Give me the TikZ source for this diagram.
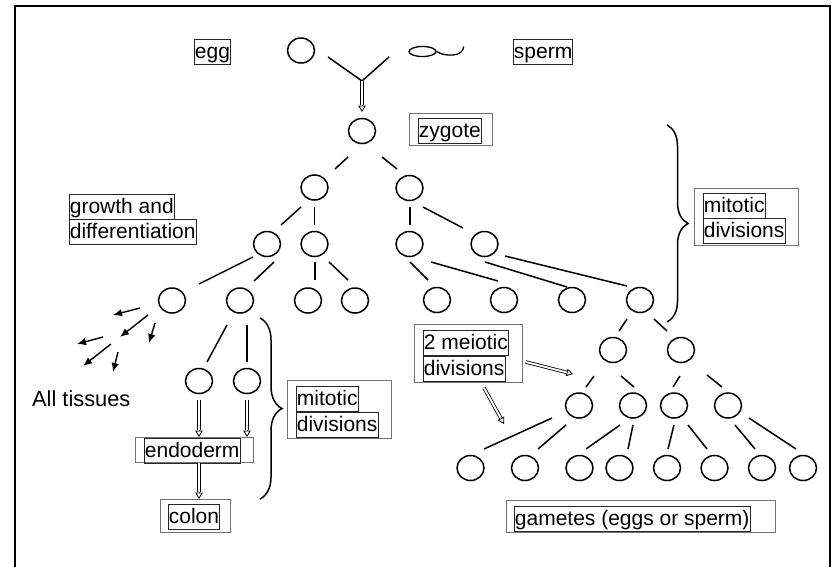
\documentclass[tikz,border=0pt]{standalone}
\usepackage{fontspec}
\setmainfont{Liberation Sans}
\usetikzlibrary{shapes.geometric,arrows.meta,calc,decorations.pathreplacing}
\newcommand\lnk[6]{\draw[edge] ($(#1)+(#2,#3)$) -- ($(#4)+(#5,#6)$);}
\newcommand\dblarr[2]{%
  \draw[line width=0.8pt,-{Triangle[open,length=6.5pt,width=7.5pt]}] #1 -- #2;
  \draw[line width=0.8pt,double distance=1.9pt,shorten >=6.6pt] #1 -- #2;}
\begin{document}
\begin{tikzpicture}[x=1pt,y=-1pt,
  cell/.style={ellipse,draw,line width=1.5pt,minimum width=27pt,minimum height=25pt,inner sep=0pt},
  edge/.style={line width=1.5pt},
  fat/.style={line width=1.4pt,-{Latex[length=9pt,width=7.5pt]}},
  ibox/.style={draw=black!85,line width=0.8pt,inner xsep=0.5pt,inner ysep=0pt,
    text height=19.5pt,text depth=5.5pt,anchor=north west,font=\fontsize{21pt}{25pt}\selectfont},
  obox/.style={draw=black!55,line width=0.8pt,inner sep=0pt,anchor=north west},
  brc/.style={line width=1.5pt,decorate},
  frame/.style={line width=1.3pt}]
\useasboundingbox (0,0) rectangle (832,566);
\draw[frame] (15,580) -- (15,6) -- (830,6) -- (830,580);

% top: egg + sperm
\node[cell] (egg) at (301,50.5) {};
\node[ellipse,draw,line width=1.3pt,minimum width=27pt,minimum height=10pt,inner sep=0pt] (sperm) at (422.5,51.5) {};
\draw[line width=1.3pt] (sperm.east) .. controls +(7,4) and +(-5,0) .. ++(16,3.5)
   .. controls +(7,0) and +(0,4) .. ++(11,-8.5);
\coordinate (Y) at (362,81);
\draw[edge] ($(egg)+(27,6.5)$) -- (Y);
\draw[edge] ($(sperm)+(-33.5,5.5)$) -- (Y);

% circles
\node[cell] (zyg) at (362,131) {};
\node[cell] (a2) at (314.5,187.5) {};
\node[cell] (b2) at (409.5,188) {};
\node[cell] (a3) at (267,244) {};
\node[cell] (b3) at (314.5,244) {};
\node[cell] (c3) at (409.5,244) {};
\node[cell] (d3) at (484.5,244) {};
\node[cell] (a4) at (172,300.5) {};
\node[cell] (b4) at (240,300.5) {};
\node[cell] (c4) at (308,300.5) {};
\node[cell] (d4) at (355,300.5) {};
\node[cell] (e4) at (437,300) {};
\node[cell] (f4) at (504,300) {};
\node[cell] (g4) at (572,300) {};
\node[cell] (h4) at (640,300) {};
\node[cell] (la5) at (199,381) {};
\node[cell] (lb5) at (247,381) {};
\node[cell] (ra5) at (613,350) {};
\node[cell] (rb5) at (681,350) {};
\node[cell] (a6) at (579,405.5) {};
\node[cell] (b6) at (633,405.5) {};
\node[cell] (c6) at (674,405.5) {};
\node[cell] (d6) at (728,405.5) {};
\node[cell] (a7) at (470.5,468) {};
\node[cell] (b7) at (525,468) {};
\node[cell] (c7) at (579.5,468) {};
\node[cell] (d7) at (619.5,468) {};
\node[cell] (e7) at (667,468) {};
\node[cell] (f7) at (714.5,468) {};
\node[cell] (g7) at (762,468) {};
\node[cell] (h7) at (803,468) {};

% tree edges
\lnk{zyg}{-14}{26}{a2}{20.5}{-18.5}
\lnk{zyg}{20}{26}{b2}{-12.5}{-19}
\lnk{a2}{-13.5}{19.5}{a3}{14}{-19}
\lnk{a2}{0}{19.5}{b3}{0}{-19}
\lnk{b2}{0.5}{19}{c3}{0.5}{-19}
\lnk{b2}{13.5}{19}{d3}{-21.5}{-16}
\lnk{a3}{-14}{13}{a4}{27}{-16.5}
\lnk{a3}{7}{18}{b4}{14}{-19.5}
\lnk{b3}{0.5}{18}{c4}{7}{-20.5}
\lnk{b3}{14.5}{18}{d4}{-7}{-20.5}
\lnk{c3}{0.5}{18}{e4}{-9}{-20}
\lnk{c3}{21.5}{18}{f4}{-6}{-19}
\lnk{d3}{0.5}{18}{g4}{-5}{-13}
\lnk{d3}{20.5}{12}{h4}{-13}{-14}
\lnk{b4}{-13}{24.5}{la5}{8}{-19}
\lnk{b4}{7}{24.5}{lb5}{0}{-19}
\lnk{h4}{-13}{19}{ra5}{6}{-19}
\lnk{h4}{14}{19}{rb5}{-14}{-19}
\lnk{ra5}{-19}{26}{a6}{7}{-18.5}
\lnk{ra5}{8}{26}{b6}{1}{-18.5}
\lnk{rb5}{-1}{26}{c6}{-1}{-18.5}
\lnk{rb5}{26}{25}{d6}{-6}{-18.5}
\lnk{a6}{-27}{12.5}{a7}{13.5}{-19}
\lnk{a6}{-13}{19.5}{b7}{13}{-19}
\lnk{b6}{-13}{19.5}{c7}{6.5}{-19}
\lnk{b6}{0}{19.5}{d7}{8.5}{-19}
\lnk{c6}{0}{19.5}{e7}{1}{-19}
\lnk{c6}{14}{19.5}{f7}{-7.5}{-19}
\lnk{d6}{7}{19.5}{g7}{-7}{-19}
\lnk{d6}{21}{12.5}{h7}{-7}{-19}

% all tissues arrows
\draw[fat] ($(a4)+(-32,7.5)$) -- ($(a4)+(-59,14.5)$);
\draw[fat] ($(a4)+(-24,14.5)$) -- ($(a4)+(-52,36.5)$);
\draw[fat] ($(a4)+(-17,22.5)$) -- ($(a4)+(-23,42.5)$);
\draw[fat] ($(a4)+(-69,36.5)$) -- ($(a4)+(-95,43.5)$);
\draw[fat] ($(a4)+(-61,43.5)$) -- ($(a4)+(-89,65.5)$);
\draw[fat] ($(a4)+(-54,51.5)$) -- ($(a4)+(-59,71.5)$);
\node[anchor=base west,inner sep=0pt,font=\fontsize{21.8pt}{26pt}\selectfont] (all) at (32,406) {All tissues};

% outer boxes
\node[obox,minimum width=83pt,minimum height=32pt] (zygO) at (409,113) {};
\node[obox,minimum width=104pt,minimum height=57pt] (mitRO) at (694,188) {};
\node[obox,minimum width=104pt,minimum height=58pt] (mitLO) at (287,380) {};
\node[obox,minimum width=118pt,minimum height=25pt] (endoO) at (135,437) {};
\node[obox,minimum width=70pt,minimum height=33pt] (colonO) at (160,499) {};
\node[obox,minimum width=108pt,minimum height=58pt] (meiO) at (414,324) {};
\node[obox,minimum width=269pt,minimum height=32pt] (gamO) at (506,500) {};

% labels
\node[ibox] (eggL) at (194,39) {egg};
\node[ibox] (spermL) at (513,39) {sperm};
\node[ibox] (zygL) at (418,118) {zygote};
\node[ibox] (mitR1) at (703,193) {mitotic};
\node[ibox] (mitR2) at (703,218) {divisions};
\node[ibox] (gro1) at (69,194) {growth and};
\node[ibox] (gro2) at (69,219) {differentiation};
\node[ibox] (mitL1) at (296,386) {mitotic};
\node[ibox] (mitL2) at (296,412) {divisions};
\node[ibox] (endoL) at (144,438) {endoderm};
\node[ibox] (colonL) at (168,504) {colon};
\node[ibox] (mei1) at (423,330) {2 meiotic};
\node[ibox] (mei2) at (423,356) {divisions};
\node[ibox] (gamL) at (514,506) {gametes (eggs or sperm)};

% double arrows
\dblarr{(Y)}{($(zyg)+(0,-19)$)}
\dblarr{($(la5)+(0,19)$)}{(la5 |- endoO.north)}
\dblarr{($(lb5)+(0,19)$)}{(lb5 |- endoO.north)}
\dblarr{(la5 |- endoO.south)}{(la5 |- colonO.north)}
\coordinate (m1) at (573,374);
\coordinate (m2) at (504,424);
\dblarr{($(meiO.north east)+(3,38)$)}{(m1)}
\dblarr{($(meiO.south west)+(70,5)$)}{(m2)}

% braces
\draw[brc,decoration={brace,amplitude=21pt}] (667,125) -- (667,322);
\draw[brc,decoration={brace,amplitude=22pt}] (260,318) -- (260,499);
\end{tikzpicture}
\end{document}
